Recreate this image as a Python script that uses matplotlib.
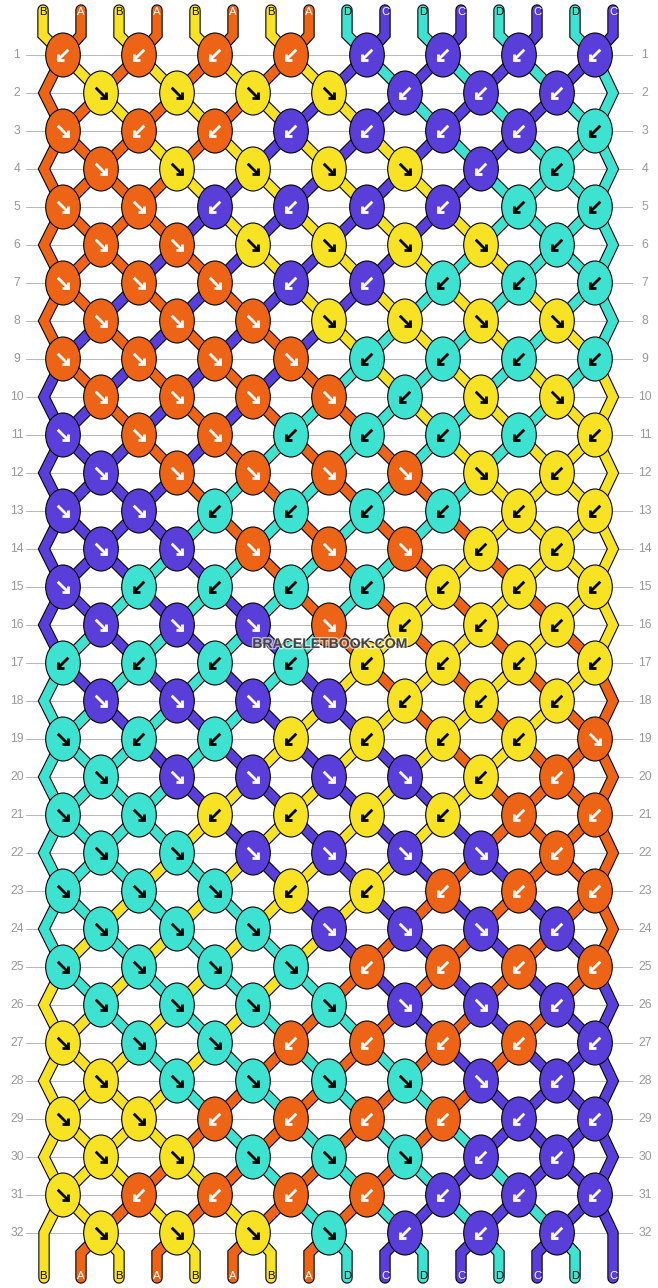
import matplotlib
matplotlib.use('Agg')
import matplotlib.pyplot as plt
from matplotlib.patches import Ellipse
import matplotlib.patheffects as pe

plt.rcParams['font.family'] = ['Liberation Sans', 'DejaVu Sans']

# threads at the top, left to right
start_threads = list('BABABABADCDCDCDC')

# knot colour per row (which thread is on top)
row_colors = [
    'AAAACCCC', 'BBBBCCC', 'AAACCCCD', 'ABBBBCD', 'AACCCCDD', 'AABBBBD',
    'AAACCDDD', 'AAABBBB', 'AAAADDDD', 'AAAADBB', 'CAADDDDB', 'CAAAABB',
    'CCDDDDBB', 'CCAAABB', 'CDDDDBBB', 'CCCABBB', 'DDDDBBBB', 'CCCCBBB',
    'DDDBBBBA', 'DCCCCBA', 'DDBBBBAA', 'DDCCCCA', 'DDDBBAAA', 'DDDCCCC',
    'DDDDAAAA', 'DDDDCCC', 'BDDAAAAC', 'BDDDDCC', 'BBAAAACC', 'BBDDDCC',
    'BAAAACCC', 'BBBDCCC',
]
# knot direction per row, L is the down-left arrow, R the down-right one
row_dirs = [
    'LLLLLLLL', 'RRRRLLL', 'RLLLLLLL', 'RRRRRLL', 'RRLLLLLL', 'RRRRRRL',
    'RRRLLLLL', 'RRRRRRR', 'RRRRLLLL', 'RRRRLRR', 'RRRLLLLL', 'RRRRRRL',
    'RRLLLLLL', 'RRRRRLL', 'RLLLLLLL', 'RRRRLLL', 'LLLLLLLL', 'RRRRLLL',
    'RLLLLLLR', 'RRRRRLL', 'RRLLLLLL', 'RRRRRRL', 'RRRLLLLL', 'RRRRRRL',
    'RRRRLLLL', 'RRRRRRL', 'RRRLLLLL', 'RRRRRRL', 'RRLLLLLL', 'RRRRRLL',
    'RLLLLLLL', 'RRRRLLL',
]

thread_colors = {'A': '#EE6416', 'B': '#F8E224', 'C': '#5A3EDA', 'D': '#3DE2D0'}
label_colors = {'A': 'white', 'B': 'black', 'C': 'white', 'D': 'black'}

px = 72 / 100  # one pixel in points

fig = plt.figure(figsize=(6.58, 12.88), dpi=100)
ax = fig.add_axes([0, 0, 1, 1])
ax.set_xlim(0, 658)
ax.set_ylim(1288, 0)
ax.axis('off')


def row_y(r):
    return 55 + 38 * r


def strand_x(p):
    return 43 + 38 * p


def node(r, p):
    # where strand position p sits on row r
    if r % 2 == 0:
        return 63 + 76 * (p // 2), row_y(r)
    if p == 0:
        return 44, row_y(r)
    if p == 15:
        return 613, row_y(r)
    return 101 + 76 * ((p - 1) // 2), row_y(r)


def draw_thread(xs, ys, color):
    ax.plot(xs, ys, color='black', lw=11.4 * px, solid_capstyle='round', solid_joinstyle='miter', zorder=2)
    ax.plot(xs, ys, color=color, lw=9.2 * px, solid_capstyle='round', solid_joinstyle='miter', zorder=3)


def draw_arrow(x, y, direction, color):
    s = 1 if direction == 'R' else -1
    ax.plot([x - s * 5.3, x + s * 5.3], [y - 5.3, y + 5.3], color=color, lw=2.8 * px,
            solid_capstyle='butt', zorder=5)
    ax.plot([x + s * 5.3, x + s * 5.3, x - s * 1.2], [y - 1.2, y + 5.3, y + 5.3], color=color,
            lw=2.8 * px, solid_capstyle='butt', solid_joinstyle='miter', zorder=5)


n_rows = len(row_dirs)

# row lines and numbers
for r in range(n_rows):
    ax.plot([26, 632], [row_y(r), row_y(r)], color='#BBBBBB', lw=1 * px, zorder=1)
    ax.text(17, row_y(r), str(r + 1), color='#999999', fontsize=8.8, ha='center', va='center')
    ax.text(645, row_y(r), str(r + 1), color='#999999', fontsize=8.8, ha='center', va='center')

# loose ends on top
threads = list(start_threads)
for p, t in enumerate(threads):
    x0, y0 = node(0, p)
    draw_thread([strand_x(p), strand_x(p), x0], [10, 35, y0], thread_colors[t])
    ax.text(strand_x(p), 12, t, color=label_colors[t], fontsize=8.2, ha='center', va='center', zorder=4)

# walk the threads down the rows, they swap at every knot
for r in range(n_rows):
    first = 0 if r % 2 == 0 else 1
    for k, d in enumerate(row_dirs[r]):
        left = first + 2 * k
        x, y = node(r, left)
        c = row_colors[r][k]
        ax.add_patch(Ellipse((x, y), 34.6, 44, facecolor=thread_colors[c], edgecolor='black',
                             lw=1.1 * px, zorder=4))
        draw_arrow(x, y, d, 'white' if c in 'AC' else 'black')
        threads[left], threads[left + 1] = threads[left + 1], threads[left]
    if r == n_rows - 1:
        break
    for p, t in enumerate(threads):
        x0, y0 = node(r, p)
        x1, y1 = node(r + 1, p)
        if p in (0, 15):
            # edge strands skip a row, one stroke through the bend
            if r % 2 == 1:
                continue
            if r + 2 < n_rows:
                x2, y2 = node(r + 2, p)
            else:
                x2, y2 = x1, 1278
            draw_thread([x0, x1, x2], [y0, y1, y2], thread_colors[t])
        else:
            draw_thread([x0, x1], [y0, y1], thread_colors[t])

# loose ends at the bottom, edge strands already done
for p, t in enumerate(threads):
    if p not in (0, 15):
        x0, y0 = node(n_rows - 1, p)
        draw_thread([x0, strand_x(p), strand_x(p)], [y0, 1253, 1278], thread_colors[t])
    ax.text(strand_x(p), 1276, t, color=label_colors[t], fontsize=8.2, ha='center', va='center', zorder=4)

ax.text(329.5, 644, 'BRACELETBOOK.COM', color='#444444', fontsize=10.1, fontweight='bold',
        ha='center', va='center', zorder=6,
        path_effects=[pe.withStroke(linewidth=2, foreground='white', alpha=0.6)])

fig.savefig('out.png', dpi=100)
